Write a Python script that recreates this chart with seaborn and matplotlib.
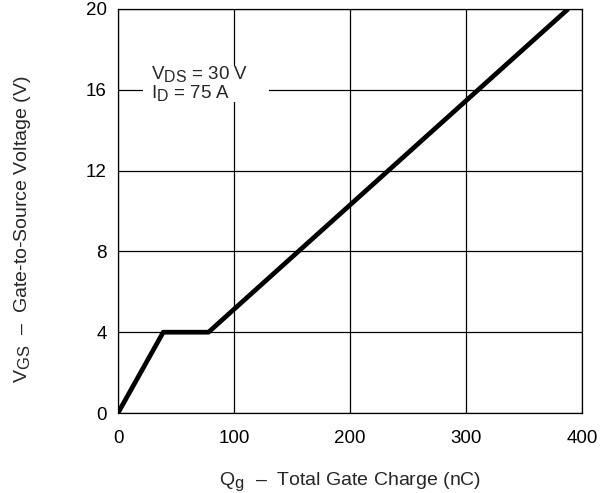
import matplotlib
matplotlib.use("Agg")
import matplotlib.pyplot as plt
import matplotlib._mathtext as _mt
import seaborn as sns
import pandas as pd
from matplotlib.patches import Rectangle

# Data
qg_nc = [0, 39, 78, 388]
vgs_v = [0, 4, 4, 20]
x_ticks = [0, 100, 200, 300, 400]
y_ticks = [0, 4, 8, 12, 16, 20]

# larger subscripts, like the reference
_mt.SHRINK_FACTOR = 0.85

sns.set_theme(style="white")
plt.rcParams['font.family'] = ['Liberation Sans', 'DejaVu Sans']
plt.rcParams['mathtext.fontset'] = 'custom'
plt.rcParams['mathtext.rm'] = 'Liberation Sans'

df = pd.DataFrame({"Qg": qg_nc, "VGS": vgs_v})

fig = plt.figure(figsize=(6.06, 4.93), dpi=100)
ax = fig.add_axes([118/606, 1-413/493, (582-118)/606, (413-9)/493])

sns.lineplot(data=df, x="Qg", y="VGS", ax=ax, color="black", linewidth=3.4,
             solid_capstyle="butt", zorder=3)

ax.set_xlim(0, 400)
ax.set_ylim(0, 20)
ax.set_xticks(x_ticks)
ax.set_yticks(y_ticks)
ax.grid(True, color="black", linewidth=0.9)
ax.tick_params(axis="both", length=0, labelsize=13.5, colors="black")
ax.tick_params(axis="x", pad=12)
ax.tick_params(axis="y", pad=8)
for s in ax.spines.values():
    s.set_color("black")
    s.set_linewidth(0.9)

ax.set_xlabel(r"Q$_\mathregular{g}$  –  Total Gate Charge (nC)", fontsize=14)
ax.set_ylabel(r"V$_\mathregular{GS}$  –  Gate-to-Source Voltage (V)", fontsize=14)
ax.xaxis.set_label_coords(0.5, -(485 - 413) / 404)
ax.xaxis.label.set_verticalalignment("baseline")
ax.yaxis.set_label_coords(-(118 - 33) / 464, 0.455)

# white background box behind the annotation (covers grid lines)
ax.add_patch(Rectangle((21.5, 15.4), 108.5, 1.8, transform=ax.transData,
                       facecolor="white", edgecolor="none", zorder=2.5))
ax.text(28.5, 16.25, "V$_\\mathregular{DS}$ = 30 V\nI$_\\mathregular{D}$ = 75 A",
        fontsize=13.5, va="center", ha="left", zorder=4, linespacing=0.9)

fig.savefig("out.png", dpi=100)
